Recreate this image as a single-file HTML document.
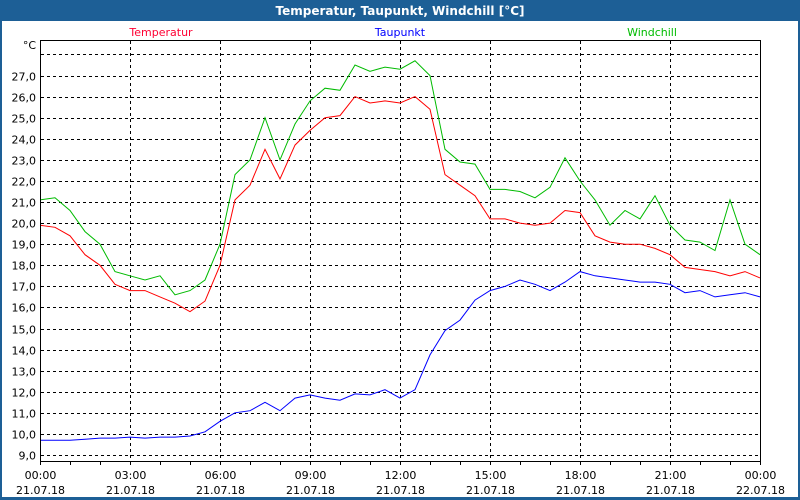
<!DOCTYPE html>
<html><head><meta charset="utf-8"><style>
html,body{margin:0;padding:0;width:800px;height:500px;overflow:hidden;background:#fff}
text{font-family:"DejaVu Sans","Liberation Sans",sans-serif}
</style></head><body>
<svg id="c" width="800" height="500" xmlns="http://www.w3.org/2000/svg">
<rect x="0" y="0" width="800" height="500" fill="#1d5f96"/>
<rect x="2" y="21" width="796" height="476" fill="#fff"/>
<text x="400" y="15" fill="#fff" font-size="12" font-weight="bold" text-anchor="middle">Temperatur, Taupunkt, Windchill [°C]</text>
<text x="161" y="36" fill="#ff0033" font-size="11" text-anchor="middle">Temperatur</text>
<text x="400" y="36" fill="#0000ff" font-size="11" text-anchor="middle">Taupunkt</text>
<text x="652" y="36" fill="#00bb00" font-size="11" text-anchor="middle">Windchill</text>
<text x="36" y="49" fill="#000" font-size="11" text-anchor="end">°C</text>
<g id="grid"></g><g id="series"></g>
<rect x="40.5" y="40.5" width="720" height="421" fill="none" stroke="#000" stroke-width="1"/>
</svg>
<script>
const hours=[0,0.5,1,1.5,2,2.5,3,3.5,4,4.5,5,5.5,6,6.5,7,7.5,8,8.5,9,9.5,10,10.5,11,11.5,12,12.5,13,13.5,14,14.5,15,15.5,16,16.5,17,17.5,18,18.5,19,19.5,20,20.5,21,21.5,22,22.5,23,23.5,24];
const temperatur=[19.9,19.8,19.4,18.5,18.0,17.1,16.8,16.8,16.5,16.2,15.8,16.3,18.0,21.1,21.8,23.5,22.1,23.7,24.4,25.0,25.1,26.0,25.7,25.8,25.7,26.0,25.4,22.3,21.8,21.3,20.2,20.2,20.0,19.9,20.0,20.6,20.5,19.4,19.1,19.0,19.0,18.8,18.5,17.9,17.8,17.7,17.5,17.7,17.4];
const taupunkt=[9.7,9.7,9.7,9.75,9.8,9.8,9.85,9.8,9.85,9.85,9.9,10.1,10.6,11.0,11.1,11.5,11.1,11.7,11.85,11.7,11.6,11.9,11.85,12.1,11.7,12.1,13.75,14.9,15.4,16.35,16.8,17.0,17.3,17.1,16.8,17.2,17.7,17.5,17.4,17.3,17.2,17.2,17.1,16.7,16.8,16.5,16.6,16.7,16.5];
const windchill=[21.1,21.2,20.6,19.6,19.0,17.7,17.5,17.3,17.5,16.6,16.8,17.3,19.0,22.3,23.0,25.0,23.0,24.7,25.8,26.4,26.3,27.5,27.2,27.4,27.3,27.7,27.0,23.5,22.9,22.8,21.6,21.6,21.5,21.2,21.7,23.1,22.0,21.1,19.9,20.6,20.2,21.3,19.9,19.2,19.1,18.7,21.1,19.0,18.5];
const yTicks=[9,10,11,12,13,14,15,16,17,18,19,20,21,22,23,24,25,26,27,28];
const xTickLabels=["00:00","03:00","06:00","09:00","12:00","15:00","18:00","21:00","00:00"];
const xDateLabels=["21.07.18","21.07.18","21.07.18","21.07.18","21.07.18","21.07.18","21.07.18","21.07.18","22.07.18"];
const NS="http://www.w3.org/2000/svg";
const X=h=>40+h*30;
const Y=v=>455-(v-9)*21.08;
function mk(tag,attrs,parent){const e=document.createElementNS(NS,tag);for(const k in attrs)e.setAttribute(k,attrs[k]);parent.appendChild(e);return e;}
const g=document.getElementById('grid');
yTicks.forEach(v=>{
  const y=Math.round(Y(v))+0.5;
  const l=mk('line',{x1:41,x2:760,y1:y,y2:y,stroke:'#000','stroke-dasharray':'3,3'},g);
  
  
  if(v<28){const t=mk('text',{x:36,y:y+4,'font-size':11,'text-anchor':'end',fill:'#000'},g);
  t.textContent=v.toFixed(1).replace('.',',');
  
  }
});
for(let h=0;h<=24;h++){
  const x=Math.round(X(h))+0.5;
  const tk=mk('line',{x1:x,x2:x,y1:461,y2:465,stroke:'#000'},g);
  
  
  if(h%3===0){
    if(h>0&&h<24){const l=mk('line',{x1:x,x2:x,y1:41,y2:461,stroke:'#000','stroke-dasharray':'3,3'},g);
    
    }
    const i=h/3;
    const t=mk('text',{x:x,y:479,'font-size':11,'text-anchor':'middle',fill:'#000'},g);
    t.textContent=xTickLabels[i];
    
    
    const d=mk('text',{x:x,y:494,'font-size':11,'text-anchor':'middle',fill:'#000'},g);
    d.textContent=xDateLabels[i];
    
    
  }
}
const s=document.getElementById('series');
[[taupunkt,'#0000ff','line-taupunkt'],[temperatur,'#ff0000','line-temperatur'],[windchill,'#00bb00','line-windchill']].forEach(([arr,col,name])=>{
  const pts=arr.map((v,i)=>X(hours[i]).toFixed(1)+','+Y(v).toFixed(1)).join(' ');
  const p=mk('polyline',{points:pts,fill:'none',stroke:col,'stroke-width':1},s);
  
  
});
</script>
</body></html>
